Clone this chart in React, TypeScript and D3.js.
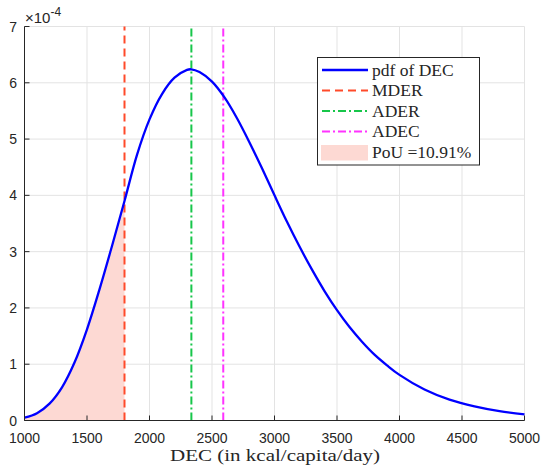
import React from "react";
import * as d3 from "d3";

// DEC (kcal/capita/day) sample points and pdf values (×1e-4)
const DEC_X = [1000, 1100, 1200, 1300, 1400, 1500, 1600, 1700, 1800, 1900, 2000, 2100, 2200, 2300, 2334, 2400, 2500, 2600, 2700, 2800, 2900, 3000, 3100, 3200, 3300, 3400, 3500, 3600, 3700, 3800, 3900, 4000, 4200, 4400, 4600, 4800, 5000];
const PDF_Y = [0.05, 0.13, 0.30, 0.59, 1.03, 1.62, 2.33, 3.10, 3.90, 4.72, 5.35, 5.80, 6.09, 6.23, 6.24, 6.19, 6.02, 5.74, 5.37, 4.94, 4.48, 4.00, 3.53, 3.09, 2.68, 2.30, 1.96, 1.66, 1.40, 1.17, 0.98, 0.81, 0.55, 0.37, 0.25, 0.165, 0.11];

const MDER = 1800;
const ADER = 2335;
const ADEC = 2590;

const X_TICKS = [1000, 1500, 2000, 2500, 3000, 3500, 4000, 4500, 5000];
const Y_TICKS = [0, 1, 2, 3, 4, 5, 6, 7];

const LEGEND_LABELS = ["pdf of DEC", "MDER", "ADER", "ADEC", "PoU =10.91%"];

export default function App() {
  const W = 544, H = 467;
  const x = d3.scaleLinear().domain([1000, 5000]).range([24.5, 524.5]);
  const y = d3.scaleLinear().domain([0, 7]).range([420.5, 26.5]);
  const pts = DEC_X.map((d, i) => [d, PDF_Y[i]] as [number, number]);
  const line = d3.line<[number, number]>().x(d => x(d[0])).y(d => y(d[1])).curve(d3.curveCatmullRom.alpha(0.5));
  const fillPts = pts.filter(p => p[0] <= MDER);
  const area = d3.area<[number, number]>().x(d => x(d[0])).y0(y(0)).y1(d => y(d[1])).curve(d3.curveCatmullRom.alpha(0.5));

  const axisColor = "#262626";
  const gridColor = "#e3e3e3";
  const sans = "'Liberation Sans', Arial, sans-serif";
  const serif = "'Liberation Serif', 'Times New Roman', serif";

  const colors = { pdf: "#0000ff", mder: "#ff4a2a", ader: "#17c64a", adec: "#ff33ff", fill: "#fdd9d3" };
  const dashes = { mder: "8,5", ader: "8,3,2,3", adec: "8,3,2,3" };

  const lx0 = 317.5, ly0 = 57.5, lw = 162, lh = 107.5;
  const rowY = [70, 90.5, 111, 131.5, 152];

  return (
    <svg width={W} height={H} style={{ position: "absolute", left: 0, top: 0, background: "#fff" }}>
      {/* grid */}
      {X_TICKS.map(t => (
        <line key={"gx" + t} x1={x(t)} x2={x(t)} y1={y(0)} y2={y(7)} stroke={gridColor} strokeWidth={1} />
      ))}
      {Y_TICKS.map(t => (
        <line key={"gy" + t} x1={x(1000)} x2={x(5000)} y1={y(t)} y2={y(t)} stroke={gridColor} strokeWidth={1} />
      ))}
      {/* fill */}
      <path d={area(fillPts) || ""} fill={colors.fill} stroke="none" />
      {/* vertical reference lines */}
      <line x1={x(MDER)} x2={x(MDER)} y1={y(0)} y2={y(7)} stroke={colors.mder} strokeWidth={2} strokeDasharray={dashes.mder} />
      <line x1={x(ADER)} x2={x(ADER)} y1={y(0)} y2={y(7)} stroke={colors.ader} strokeWidth={2} strokeDasharray={dashes.ader} />
      <line x1={x(ADEC)} x2={x(ADEC)} y1={y(0)} y2={y(7)} stroke={colors.adec} strokeWidth={2} strokeDasharray={dashes.adec} />
      {/* pdf curve */}
      <path d={line(pts) || ""} fill="none" stroke={colors.pdf} strokeWidth={2.3} />
      {/* axes */}
      <line x1={x(1000)} x2={x(5000)} y1={y(0)} y2={y(0)} stroke={axisColor} strokeWidth={1} />
      <line x1={x(1000)} x2={x(1000)} y1={y(0)} y2={y(7)} stroke={axisColor} strokeWidth={1} />
      {X_TICKS.map(t => (
        <g key={"xt" + t}>
          <line x1={x(t)} x2={x(t)} y1={y(0)} y2={y(0) - 5} stroke={axisColor} strokeWidth={1} />
          <text x={x(t)} y={443} textAnchor="middle" fontFamily={sans} fontSize={14} fill={axisColor}>{t}</text>
        </g>
      ))}
      {Y_TICKS.map(t => (
        <g key={"yt" + t}>
          <line x1={x(1000)} x2={x(1000) + 5} y1={y(t)} y2={y(t)} stroke={axisColor} strokeWidth={1} />
          <text x={17} y={y(t) + 5} textAnchor="end" fontFamily={sans} fontSize={14} fill={axisColor}>{t}</text>
        </g>
      ))}
      {/* exponent */}
      <text x={25} y={23} fontFamily={sans} fontSize={15} fill={axisColor}>
        ×10<tspan dy={-7} fontSize={12}>-4</tspan>
      </text>
      {/* x label */}
      <text x={275} y={461} textAnchor="middle" fontFamily={serif} fontSize={17} fill={axisColor} textLength={210} lengthAdjust="spacingAndGlyphs">DEC (in kcal/capita/day)</text>
      {/* legend */}
      <rect x={lx0} y={ly0} width={lw} height={lh} fill="#fff" stroke={axisColor} strokeWidth={1} />
      <line x1={322} x2={368} y1={rowY[0]} y2={rowY[0]} stroke={colors.pdf} strokeWidth={2.3} />
      <line x1={322} x2={368} y1={rowY[1]} y2={rowY[1]} stroke={colors.mder} strokeWidth={2} strokeDasharray={dashes.mder} />
      <line x1={322} x2={368} y1={rowY[2]} y2={rowY[2]} stroke={colors.ader} strokeWidth={2} strokeDasharray={dashes.ader} />
      <line x1={322} x2={368} y1={rowY[3]} y2={rowY[3]} stroke={colors.adec} strokeWidth={2} strokeDasharray={dashes.adec} />
      <rect x={321} y={145} width={47} height={15.5} fill={colors.fill} />
      {LEGEND_LABELS.map((l, i) => (
        <text key={l} x={372} y={rowY[i] + 5.5} fontFamily={serif} fontSize={17.5} fill={axisColor}>{l}</text>
      ))}
    </svg>
  );
}
